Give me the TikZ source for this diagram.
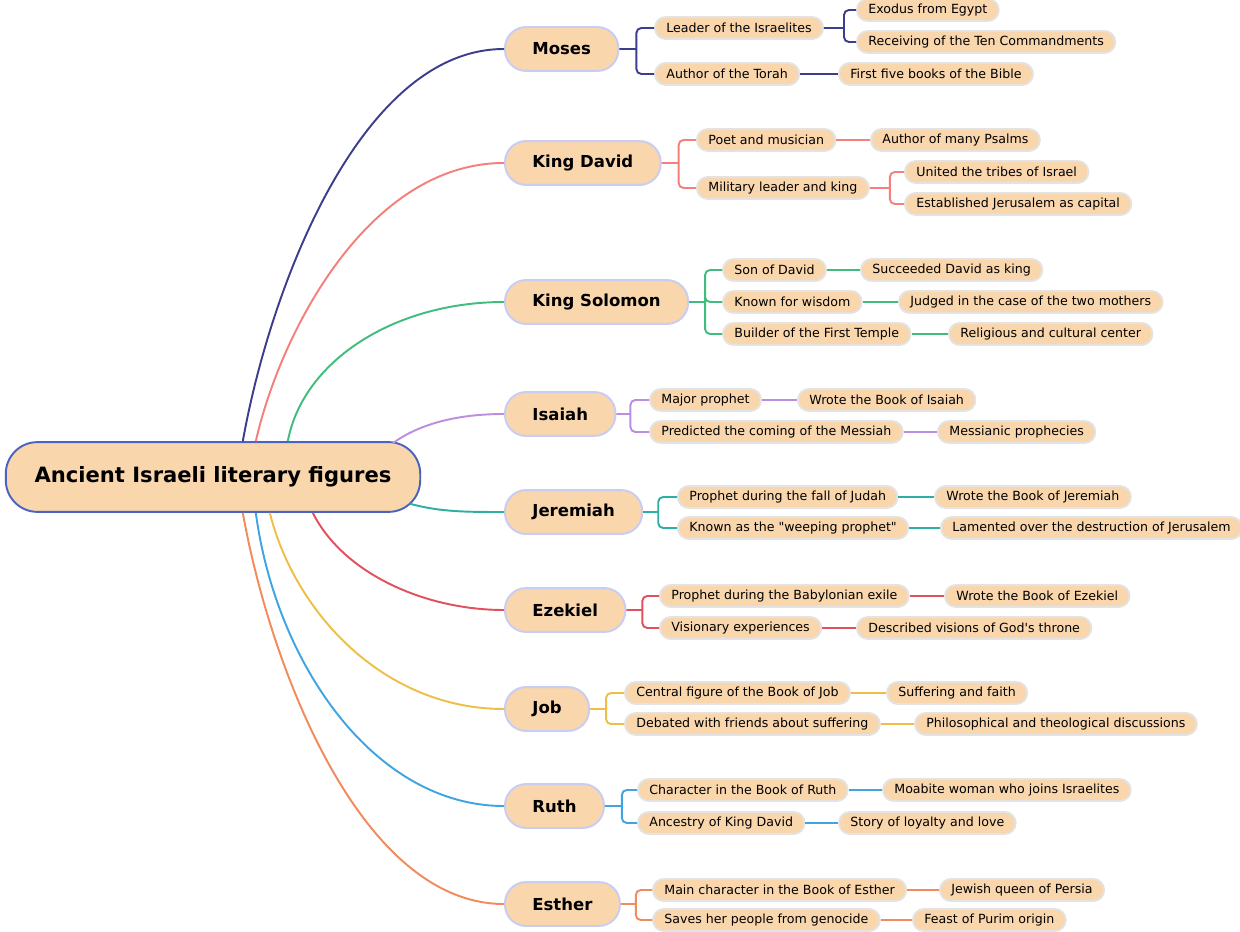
\documentclass[tikz,border=0pt]{standalone}
\usepackage{fontspec}
\setmainfont{DejaVu Sans}[Ligatures=TeXOff]
\usetikzlibrary{positioning,calc}
\definecolor{peach}{HTML}{F9D6AC}
\definecolor{rootline}{HTML}{4A63C1}
\definecolor{topicline}{HTML}{C8CDF5}
\definecolor{leafline}{HTML}{E3E3E3}
\definecolor{mosesc}{HTML}{3D3D8D}
\definecolor{davidc}{HTML}{F47F7B}
\definecolor{solomonc}{HTML}{41BC7F}
\definecolor{isaiahc}{HTML}{BC8EE0}
\definecolor{jeremiahc}{HTML}{2EAEA5}
\definecolor{ezekielc}{HTML}{E2505E}
\definecolor{jobc}{HTML}{EDBF46}
\definecolor{ruthc}{HTML}{3FA4E4}
\definecolor{estherc}{HTML}{F28A5B}
\tikzset{
    root/.style = {
        draw=rootline,
        fill=peach,
        line width=1.1pt,
        rounded corners=18pt,
        minimum height=39.7pt,
        inner xsep=16.4pt,
        font=\fontsize{12}{14}\selectfont\bfseries
    },
    topic/.style = {
        draw=topicline,
        fill=peach,
        line width=1.1pt,
        rounded corners=12pt,
        minimum height=25pt,
        inner xsep=15.6pt,
        anchor=west,
        font=\fontsize{9.4}{11}\selectfont\bfseries
    },
    leaf/.style = {
        draw=leafline,
        fill=peach,
        line width=1.1pt,
        rounded corners=6.2pt,
        minimum height=12.5pt,
        inner ysep=0pt,
        inner xsep=6.5pt,
        anchor=west,
        font=\fontsize{7.17}{8.6}\selectfont
    },
    link/.style = {line width=1.1pt, rounded corners=2.8pt},
}
\begin{document}
\begin{tikzpicture}[x=0.02cm, y=-0.02cm]
    \useasboundingbox (0,0) rectangle (1240,932);

    \node[root] (root) at (213,477) {Ancient Israeli literary figures};

    % main topics
    \node[topic] (moses) at (504,49) {Moses};
    \node[topic] (david) at (504,163) {King David};
    \node[topic] (solomon) at (504,302) {King Solomon};
    \node[topic] (isaiah) at (504,414) {Isaiah};
    \node[topic] (jeremiah) at (504,512) {Jeremiah};
    \node[topic] (ezekiel) at (504,610) {Ezekiel};
    \node[topic] (job) at (504,709) {Job};
    \node[topic] (ruth) at (504,806) {Ruth};
    \node[topic] (esther) at (504,904) {Esther};

    % root to topics
    \draw[link, mosesc] (root.north west) ++(238,0) .. controls +(27,-152) and +(-144,0) .. (moses.west);
    \draw[link, davidc] (root.north west) ++(251,0) .. controls +(25,-110) and +(-135,0) .. (david.west);
    \draw[link, solomonc] (root.north west) ++(283,0) .. controls +(15,-80) and +(-110,0) .. (solomon.west);
    \draw[link, isaiahc] (root.north west) ++(388,2) .. controls +(25,-18) and +(-50,0) .. (isaiah.west);
    \draw[link, jeremiahc] (root.south east) ++(-11,-9) .. controls +(30,8) and +(-40,0) .. (jeremiah.west);
    \draw[link, ezekielc] (root.south west) ++(308,0) .. controls +(30,60) and +(-80,0) .. (ezekiel.west);
    \draw[link, jobc] (root.south west) ++(265,0) .. controls +(25,100) and +(-120,0) .. (job.west);
    \draw[link, ruthc] (root.south west) ++(251,0) .. controls +(20,150) and +(-130,0) .. (ruth.west);
    \draw[link, estherc] (root.south west) ++(238,0) .. controls +(27,152) and +(-144,0) .. (esther.west);

    % Moses
    \node[leaf] (leader) at (654,28) {Leader of the Israelites};
    \node[leaf] (torah) at (654,74) {Author of the Torah};
    \node[leaf] (exodus) at (856,10) {Exodus from Egypt};
    \node[leaf] (tencmd) at (856,42) {Receiving of the Ten Commandments};
    \node[leaf] (fivebooks) at (838,74) {First five books of the Bible};
    \draw[link, mosesc] (moses.east) -- ++(17,0) coordinate (mj) (mj) |- (leader.west) (mj) |- (torah.west);
    \draw[link, mosesc] (leader.east) -- ++(20,0) coordinate (lj) (lj) |- (exodus.west) (lj) |- (tencmd.west);
    \draw[link, mosesc] (torah) -- (fivebooks);

    % King David
    \node[leaf] (poet) at (696,140) {Poet and musician};
    \node[leaf] (military) at (696,188) {Military leader and king};
    \node[leaf] (psalms) at (870,140) {Author of many Psalms};
    \node[leaf] (tribes) at (904,172) {United the tribes of Israel};
    \node[leaf] (capital) at (904,204) {Established Jerusalem as capital};
    \draw[link, davidc] (david.east) -- ++(17,0) coordinate (dj) (dj) |- (poet.west) (dj) |- (military.west);
    \draw[link, davidc] (poet) -- (psalms);
    \draw[link, davidc] (military.east) -- ++(20,0) coordinate (kj) (kj) |- (tribes.west) (kj) |- (capital.west);

    % King Solomon
    \node[leaf] (sonof) at (722,270) {Son of David};
    \node[leaf] (wisdom) at (722,302) {Known for wisdom};
    \node[leaf] (temple) at (722,334) {Builder of the First Temple};
    \node[leaf] (succeeded) at (860,270) {Succeeded David as king};
    \node[leaf] (mothers) at (898,302) {Judged in the case of the two mothers};
    \node[leaf] (culture) at (948,334) {Religious and cultural center};
    \draw[link, solomonc] (solomon.east) -- ++(16,0) coordinate (sj) (sj) |- (sonof.west) (sj) |- (wisdom.west) (sj) |- (temple.west);
    \draw[link, solomonc] (sonof) -- (succeeded);
    \draw[link, solomonc] (wisdom) -- (mothers);
    \draw[link, solomonc] (temple) -- (culture);

    % Isaiah
    \node[leaf] (major) at (649,400) {Major prophet};
    \node[leaf] (messiah) at (649,432) {Predicted the coming of the Messiah};
    \node[leaf] (bookisa) at (797,400) {Wrote the Book of Isaiah};
    \node[leaf] (prophecies) at (937,432) {Messianic prophecies};
    \draw[link, isaiahc] (isaiah.east) -- ++(14,0) coordinate (ij) (ij) |- (major.west) (ij) |- (messiah.west);
    \draw[link, isaiahc] (major) -- (bookisa);
    \draw[link, isaiahc] (messiah) -- (prophecies);

    % Jeremiah
    \node[leaf] (judah) at (677,497) {Prophet during the fall of Judah};
    \node[leaf] (weeping) at (677,528) {Known as the "weeping prophet"};
    \node[leaf] (bookjer) at (934,497) {Wrote the Book of Jeremiah};
    \node[leaf] (lamented) at (940,528) {Lamented over the destruction of Jerusalem};
    \draw[link, jeremiahc] (jeremiah.east) -- ++(15,0) coordinate (jj) (jj) |- (judah.west) (jj) |- (weeping.west);
    \draw[link, jeremiahc] (judah) -- (bookjer);
    \draw[link, jeremiahc] (weeping) -- (lamented);

    % Ezekiel
    \node[leaf] (exile) at (659,596) {Prophet during the Babylonian exile};
    \node[leaf] (visionary) at (659,628) {Visionary experiences};
    \node[leaf] (bookeze) at (944,596) {Wrote the Book of Ezekiel};
    \node[leaf] (throne) at (856,628) {Described visions of God's throne};
    \draw[link, ezekielc] (ezekiel.east) -- ++(16,0) coordinate (ej) (ej) |- (exile.west) (ej) |- (visionary.west);
    \draw[link, ezekielc] (exile.east) -- (bookeze.west);
    \draw[link, ezekielc] (visionary) -- (throne);

    % Job
    \node[leaf] (central) at (624,693) {Central figure of the Book of Job};
    \node[leaf] (debated) at (624,724) {Debated with friends about suffering};
    \node[leaf] (faith) at (886,693) {Suffering and faith};
    \node[leaf] (philo) at (914,724) {Philosophical and theological discussions};
    \draw[link, jobc] (job.east) -- ++(16,0) coordinate (bj) (bj) |- (central.west) (bj) |- (debated.west);
    \draw[link, jobc] (central) -- (faith);
    \draw[link, jobc] (debated) -- (philo);

    % Ruth
    \node[leaf] (character) at (637,790) {Character in the Book of Ruth};
    \node[leaf] (ancestry) at (637,823) {Ancestry of King David};
    \node[leaf] (moabite) at (882,790) {Moabite woman who joins Israelites};
    \node[leaf] (loyalty) at (838,823) {Story of loyalty and love};
    \draw[link, ruthc] (ruth.east) -- ++(17,0) coordinate (rj) (rj) |- (character.west) (rj) |- (ancestry.west);
    \draw[link, ruthc] (character) -- (moabite);
    \draw[link, ruthc] (ancestry) -- (loyalty);

    % Esther
    \node[leaf] (mainchar) at (652,890) {Main character in the Book of Esther};
    \node[leaf] (saves) at (652,920) {Saves her people from genocide};
    \node[leaf] (queen) at (939,890) {Jewish queen of Persia};
    \node[leaf] (purim) at (912,920) {Feast of Purim origin};
    \draw[link, estherc] (esther.east) -- ++(15,0) coordinate (hj) (hj) |- (mainchar.west) (hj) |- (saves.west);
    \draw[link, estherc] (mainchar) -- (queen);
    \draw[link, estherc] (saves) -- (purim);
\end{tikzpicture}
\end{document}
